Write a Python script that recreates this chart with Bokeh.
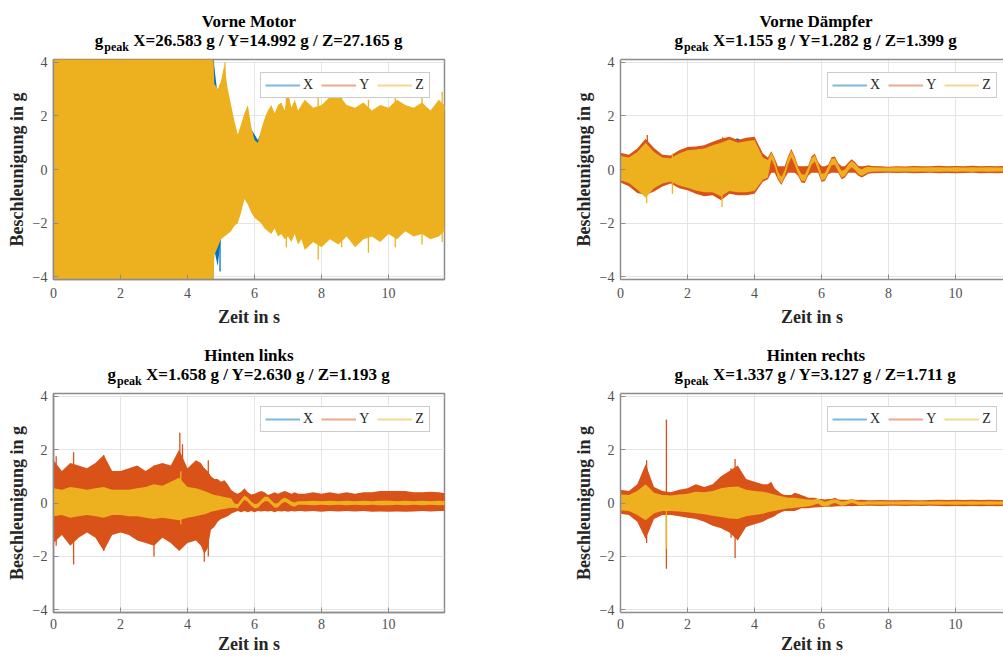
from bokeh.plotting import figure
from bokeh.models import Legend, LegendItem, FixedTicker, Range1d, LinearAxis
from bokeh.layouts import column, row
from bokeh.embed import file_html
from bokeh.resources import INLINE
from bokeh.core.properties import value

# ---------------- data ----------------
titles = ["Vorne Motor", "Vorne Dämpfer", "Hinten links", "Hinten rechts"]
peak_x = [26.583, 1.155, 1.658, 1.337]
peak_y = [14.992, 1.282, 2.630, 3.127]
peak_z = [27.165, 1.399, 1.193, 1.711]
x_ticks = [0, 2, 4, 6, 8, 10]
y_ticks = [-4, -2, 0, 2, 4]
channels = ["X", "Y", "Z"]

# time grid (s) of the envelope readings
t = [0, 0.25, 0.5, 0.75, 1, 1.25, 1.5, 1.75, 2, 2.25, 2.5, 2.75, 3, 3.25, 3.5, 3.75, 4, 4.25,
     4.4, 4.5, 4.6, 4.7, 4.8, 4.9, 5.0, 5.1, 5.2, 5.3,
     5.4, 5.5, 5.6, 5.7, 5.8, 5.9, 6.0, 6.1, 6.2, 6.3,
     6.4, 6.5, 6.6, 6.7, 6.8, 6.9, 7.0, 7.1, 7.2, 7.3, 7.4,
     7.5, 7.75, 8, 8.25, 8.5, 8.75, 9, 9.25, 9.5, 9.75,
     10, 10.25, 10.5, 10.75, 11, 11.25, 11.5, 11.75]

# --- Vorne Motor ---
motor_x_hi = [20, 24, 26.583, 22, 19, 23, 21, 25, 20, 22, 24, 19, 21, 23, 20, 19, 17, 15,
              13, 11, 9, 7, 3.8, 2.8, 3.0, 3.4, 2.7, 2.2,
              1.7, 1.2, 1.5, 1.9, 2.2, 1.5, 1.3, 1.1, 1.4, 1.8,
              2.0, 2.2, 1.9, 2.2, 2.3, 2.0, 2.5, 2.1, 2.4, 2.0, 2.2,
              2.4, 2.1, 2.2, 2.5, 2.6, 2.2, 2.1, 2.3, 2.0, 2.2,
              2.1, 2.4, 2.2, 2.1, 2.3, 2.0, 2.4, 2.1]
motor_x_lo = [-19, -23, -21, -26, -20, -22, -24, -21, -19, -23, -20, -22, -25, -19, -21, -20, -16, -15,
              -13, -11, -9, -7, -3.0, -3.6, -2.5, -2.4, -2.3, -2.2,
              -2.0, -1.9, -1.5, -1.0, -1.2, -1.5, -1.7, -1.8, -1.9, -2.1,
              -2.2, -2.3, -2.1, -2.3, -2.3, -2.4, -2.4, -2.5, -2.3, -2.6, -2.5,
              -2.8, -2.6, -2.7, -2.5, -2.6, -2.4, -2.7, -2.5, -2.4, -2.5,
              -2.3, -2.5, -2.2, -2.4, -2.3, -2.5, -2.4, -2.1]
motor_y_hi = [12, 14.992, 11, 13, 10, 12, 14, 11, 12, 13, 10, 12, 11, 13, 12, 10, 9, 8,
              7, 6, 5, 4.5, 2.9, 2.7, 2.9, 3.2, 2.6, 2.1,
              1.6, 1.2, 1.5, 1.9, 2.1, 1.4, 1.0, 0.9, 1.3, 1.7,
              2.0, 2.1, 1.9, 2.1, 2.2, 2.0, 2.4, 2.1, 2.3, 2.0, 2.1,
              2.3, 2.1, 2.2, 2.4, 2.5, 2.2, 2.1, 2.2, 2.0, 2.1,
              2.1, 2.3, 2.1, 2.0, 2.2, 2.0, 2.3, 2.1]
motor_y_lo = [-11, -13, -12, -14, -11, -12, -13, -14.5, -12, -11, -13, -12, -11, -14, -12, -11, -10, -9,
              -8, -7, -6, -5, -2.9, -2.6, -2.4, -2.3, -2.2, -2.1,
              -1.9, -1.8, -1.4, -1.0, -1.2, -1.4, -1.6, -1.7, -1.8, -2.0,
              -2.1, -2.2, -2.0, -2.2, -2.2, -2.3, -2.3, -2.4, -2.2, -2.5, -2.4,
              -2.7, -2.5, -2.6, -2.4, -2.5, -2.3, -2.6, -2.4, -2.3, -2.4,
              -2.2, -2.4, -2.1, -2.3, -2.2, -2.4, -2.3, -2.0]
motor_z_hi = [16, 21, 18, 23, 19, 22, 25, 20, 18, 24, 27.165, 21, 19, 23, 20, 18, 17, 15,
              13, 11, 9, 7, 3.2, 3.0, 3.3, 3.9, 3.0, 2.4,
              1.8, 1.3, 1.7, 2.1, 2.4, 1.6, 1.1, 1.0, 1.5, 1.9,
              2.2, 2.4, 2.1, 2.4, 2.5, 2.2, 2.9, 2.3, 2.6, 2.2, 2.4,
              2.6, 2.3, 2.4, 2.7, 2.8, 2.4, 2.3, 2.5, 2.2, 2.4,
              2.3, 2.6, 2.4, 2.3, 2.5, 2.2, 2.6, 2.3]
motor_z_lo = [-18, -22, -20, -25, -19, -21, -23, -26, -20, -22, -19, -24, -21, -18, -22, -20, -17, -16,
              -14, -12, -10, -7, -3.2, -2.9, -2.6, -2.5, -2.4, -2.3,
              -2.1, -2.0, -1.6, -1.1, -1.3, -1.6, -1.8, -1.9, -2.0, -2.2,
              -2.3, -2.4, -2.2, -2.5, -2.4, -2.6, -2.5, -2.7, -2.4, -2.8, -2.6,
              -3.0, -2.7, -2.9, -2.6, -2.8, -2.5, -2.9, -2.6, -2.5, -2.7,
              -2.4, -2.6, -2.3, -2.5, -2.4, -2.6, -2.5, -2.2]
motor_spk_ch = ["X", "X", "Z", "Z", "Z", "Z", "Z", "Z", "Z", "Z"]
motor_spk_t = [4.78, 4.97, 5.12, 6.95, 7.9, 8.6, 9.4, 10.2, 11.0, 11.6]
motor_spk_lo = [-2.0, -3.8, -2.4, -2.9, -3.35, -2.9, -3.1, -2.9, -2.8, -2.7]
motor_spk_hi = [3.8, 1.0, 4.0, 3.6, 2.7, 2.9, 2.6, 2.8, 2.7, 2.9]

# --- Vorne Dämpfer ---
daempfer_x_hi = [0.45, 0.4, 0.6, 0.9, 0.6, 0.4, 0.4, 0.55, 0.68, 0.7, 0.75, 0.85, 0.95, 1.05, 1.155, 1.0, 1.0, 0.4,
                 0.3, 0.55, 0.3, -0.1, -0.3, -0.05, 0.38, 0.66, 0.38, 0.05,
                 -0.2, -0.22, 0.05, 0.4, 0.52, 0.2, -0.18, -0.15, 0.1, 0.38,
                 0.4, 0.15, -0.08, -0.02, 0.18, 0.3, 0.2, 0.05, -0.02, 0.05, 0.08,
                 0.05, 0.05, 0.05, 0.05, 0.05, 0.05, 0.05, 0.05, 0.05, 0.05,
                 0.05, 0.05, 0.05, 0.05, 0.05, 0.05, 0.05, 0.05]
daempfer_x_lo = [-0.38, -0.45, -0.7, -0.9, -0.65, -0.5, -0.42, -0.55, -0.62, -0.72, -0.8, -0.8, -0.92, -0.75, -0.8, -0.82, -0.75, -0.35,
                 -0.25, 0.42, 0.17, -0.3, -0.5, -0.25, 0.2, 0.5, 0.2, -0.15,
                 -0.4, -0.42, -0.15, 0.2, 0.32, 0.0, -0.38, -0.35, -0.1, 0.18,
                 0.2, -0.05, -0.28, -0.22, -0.02, 0.1, 0.0, -0.15, -0.22, -0.15, -0.08,
                 -0.05, -0.05, -0.05, -0.05, -0.05, -0.05, -0.05, -0.05, -0.05, -0.05,
                 -0.05, -0.05, -0.05, -0.05, -0.05, -0.05, -0.05, -0.05]
daempfer_y_hi = [0.62, 0.55, 0.78, 1.15, 0.8, 0.55, 0.52, 0.72, 0.84, 0.86, 0.9, 1.03, 1.15, 1.22, 1.1, 1.18, 1.22, 0.6,
                 0.45, 0.68, 0.43, 0.12, 0.12, 0.12, 0.48, 0.76, 0.48, 0.13,
                 0.12, 0.12, 0.13, 0.48, 0.6, 0.28, 0.12, 0.12, 0.18, 0.46,
                 0.48, 0.23, 0.12, 0.12, 0.26, 0.38, 0.28, 0.13, 0.12, 0.13, 0.16,
                 0.13, 0.12, 0.1, 0.12, 0.11, 0.13, 0.12, 0.12, 0.14, 0.12,
                 0.13, 0.12, 0.14, 0.12, 0.13, 0.12, 0.13, 0.12]
daempfer_y_lo = [-0.48, -0.62, -0.88, -0.95, -0.82, -0.63, -0.52, -0.7, -0.77, -0.9, -1.0, -0.96, -1.15, -0.9, -0.96, -0.96, -0.9, -0.46,
                 -0.36, -0.12, -0.12, -0.38, -0.58, -0.33, -0.12, -0.12, -0.12, -0.23,
                 -0.48, -0.5, -0.23, -0.12, -0.12, -0.12, -0.46, -0.43, -0.18, -0.12,
                 -0.12, -0.13, -0.36, -0.3, -0.12, -0.12, -0.12, -0.23, -0.3, -0.23, -0.16,
                 -0.14, -0.13, -0.12, -0.13, -0.12, -0.14, -0.13, -0.12, -0.14, -0.13,
                 -0.14, -0.13, -0.12, -0.14, -0.13, -0.14, -0.12, -0.13]
daempfer_z_hi = [0.5, 0.45, 0.65, 1.0, 0.65, 0.45, 0.42, 0.6, 0.72, 0.75, 0.78, 0.9, 1.0, 1.12, 1.0, 1.05, 1.1, 0.45,
                 0.35, 0.62, 0.37, -0.08, -0.28, -0.03, 0.42, 0.7, 0.42, 0.07,
                 -0.18, -0.2, 0.07, 0.42, 0.54, 0.22, -0.16, -0.13, 0.12, 0.4,
                 0.42, 0.17, -0.06, 0.0, 0.2, 0.32, 0.22, 0.07, 0.0, 0.07, 0.1,
                 0.08, 0.07, 0.07, 0.08, 0.07, 0.08, 0.07, 0.08, 0.08, 0.07,
                 0.08, 0.07, 0.08, 0.07, 0.08, 0.07, 0.08, 0.07]
daempfer_z_lo = [-0.4, -0.5, -0.75, -1.05, -0.7, -0.52, -0.45, -0.6, -0.68, -0.78, -0.85, -0.85, -1.0, -0.8, -0.85, -0.85, -0.8, -0.38,
                 -0.3, 0.38, 0.13, -0.32, -0.52, -0.27, 0.18, 0.46, 0.18, -0.17,
                 -0.42, -0.44, -0.17, 0.18, 0.3, -0.02, -0.4, -0.37, -0.12, 0.16,
                 0.18, -0.07, -0.3, -0.24, -0.04, 0.08, -0.02, -0.17, -0.24, -0.17, -0.1,
                 -0.08, -0.07, -0.07, -0.08, -0.07, -0.08, -0.07, -0.08, -0.08, -0.07,
                 -0.08, -0.07, -0.08, -0.07, -0.08, -0.07, -0.08, -0.07]
daempfer_spk_ch = ["X", "Y", "Y", "Z", "Z", "Z"]
daempfer_spk_t = [3.48, 0.8, 3.05, 0.78, 3.03, 1.55]
daempfer_spk_lo = [-0.6, -0.9, -1.1, -1.25, -1.399, -0.9]
daempfer_spk_hi = [1.155, 1.282, 1.2, 0.9, 0.9, 0.6]

# --- Hinten links ---
links_x_hi = [0.4, 0.35, 0.45, 0.4, 0.35, 0.4, 0.45, 0.35, 0.35, 0.4, 0.4, 0.45, 0.5, 0.5, 0.6, 0.7, 0.45, 0.4,
              0.36, 0.33, 0.3, 0.26, 0.22, 0.2, 0.18, 0.16, 0.15, 0.13,
              -0.04, -0.06, 0.1, 0.24, 0.17, 0.03, -0.06, -0.04, 0.08, 0.2,
              0.2, 0.08, -0.04, -0.02, 0.1, 0.18, 0.11, 0.03, 0.0, 0.05, 0.05,
              0.05, 0.05, 0.05, 0.05, 0.05, 0.05, 0.05, 0.05, 0.05, 0.05,
              0.05, 0.05, 0.05, 0.05, 0.05, 0.05, 0.05, 0.05]
links_x_lo = [-0.38, -0.33, -0.42, -0.38, -0.33, -0.38, -0.42, -0.33, -0.33, -0.38, -0.38, -0.42, -0.45, -0.42, -0.45, -0.5, -0.42, -0.38,
              -0.33, -0.3, -0.28, -0.24, -0.22, -0.2, -0.18, -0.16, -0.15, -0.13,
              -0.16, -0.18, -0.01, 0.14, 0.07, -0.07, -0.18, -0.16, -0.03, 0.09,
              0.09, -0.04, -0.16, -0.14, -0.01, 0.07, 0.0, -0.08, -0.12, -0.05, -0.05,
              -0.05, -0.05, -0.05, -0.05, -0.05, -0.05, -0.05, -0.05, -0.05, -0.05,
              -0.05, -0.05, -0.05, -0.05, -0.05, -0.05, -0.05, -0.05]
links_y_hi = [1.6, 1.2, 1.5, 1.4, 1.3, 1.5, 1.8, 1.2, 1.2, 1.3, 1.4, 1.2, 1.4, 1.5, 1.4, 2.0, 1.3, 1.6,
              1.5, 1.3, 1.2, 1.0, 0.9, 0.9, 0.8, 0.85, 0.7, 0.5,
              0.4, 0.35, 0.42, 0.55, 0.4, 0.32, 0.35, 0.4, 0.45, 0.4,
              0.3, 0.35, 0.4, 0.35, 0.4, 0.45, 0.4, 0.35, 0.4, 0.35, 0.35,
              0.35, 0.4, 0.35, 0.4, 0.35, 0.4, 0.35, 0.4, 0.4, 0.45,
              0.45, 0.45, 0.45, 0.4, 0.4, 0.42, 0.4, 0.35]
links_y_lo = [-1.5, -1.2, -1.6, -1.3, -1.1, -1.3, -1.8, -1.2, -1.1, -1.2, -1.4, -1.5, -1.6, -1.3, -1.5, -1.8, -1.5, -1.4,
              -1.6, -1.9, -1.7, -1.0, -0.9, -0.7, -0.6, -0.55, -0.5, -0.4,
              -0.35, -0.3, -0.35, -0.3, -0.35, -0.3, -0.35, -0.3, -0.32, -0.3,
              -0.32, -0.3, -0.35, -0.3, -0.32, -0.3, -0.33, -0.3, -0.32, -0.3, -0.3,
              -0.32, -0.3, -0.33, -0.3, -0.32, -0.3, -0.32, -0.3, -0.33, -0.32,
              -0.33, -0.32, -0.33, -0.32, -0.3, -0.32, -0.3, -0.3]
links_z_hi = [0.55, 0.5, 0.6, 0.55, 0.5, 0.55, 0.6, 0.5, 0.5, 0.5, 0.55, 0.6, 0.7, 0.65, 0.8, 0.95, 0.6, 0.55,
              0.5, 0.45, 0.4, 0.35, 0.3, 0.28, 0.25, 0.22, 0.2, 0.18,
              -0.02, -0.04, 0.13, 0.28, 0.2, 0.06, -0.04, -0.02, 0.11, 0.23,
              0.23, 0.1, -0.02, 0.0, 0.13, 0.21, 0.14, 0.06, 0.02, 0.07, 0.07,
              0.07, 0.08, 0.07, 0.08, 0.07, 0.08, 0.07, 0.08, 0.07, 0.08,
              0.08, 0.07, 0.08, 0.07, 0.08, 0.07, 0.08, 0.07]
links_z_lo = [-0.5, -0.45, -0.55, -0.5, -0.45, -0.5, -0.55, -0.45, -0.45, -0.5, -0.5, -0.55, -0.6, -0.55, -0.6, -0.65, -0.55, -0.5,
              -0.45, -0.42, -0.38, -0.33, -0.3, -0.27, -0.24, -0.22, -0.2, -0.18,
              -0.18, -0.2, -0.03, 0.12, 0.04, -0.1, -0.2, -0.18, -0.05, 0.07,
              0.07, -0.06, -0.18, -0.16, -0.03, 0.05, -0.02, -0.1, -0.14, -0.07, -0.07,
              -0.07, -0.08, -0.07, -0.08, -0.07, -0.08, -0.07, -0.08, -0.07, -0.08,
              -0.08, -0.07, -0.08, -0.07, -0.08, -0.07, -0.08, -0.07]
links_spk_ch = ["X", "Y", "Y", "Y", "Y", "Y", "Y", "Y", "Y", "Z"]
links_spk_t = [3.77, 0.08, 0.6, 1.5, 3.0, 3.77, 3.85, 4.5, 4.62, 3.8]
links_spk_lo = [-1.2, -1.6, -2.3, -1.8, -2.0, -1.7, -1.5, -2.2, -2.0, -0.8]
links_spk_hi = [1.658, 1.75, 1.9, 1.8, 1.4, 2.63, 2.2, 1.3, 1.6, 1.193]

# --- Hinten rechts ---
rechts_x_hi = [0.26, 0.24, 0.36, 0.56, 0.3, 0.24, 0.22, 0.26, 0.28, 0.34, 0.32, 0.36, 0.44, 0.48, 0.5, 0.4, 0.36, 0.34,
               0.3, 0.28, 0.26, 0.22, 0.2, 0.18, 0.16, 0.16, 0.16, 0.14,
               0.13, 0.11, 0.1, 0.1, 0.11, 0.13, 0.08, 0.03, 0.06, 0.1,
               0.12, 0.08, 0.04, 0.05, 0.08, 0.11, 0.08, 0.04, 0.03, 0.04, 0.05,
               0.045, 0.045, 0.045, 0.045, 0.045, 0.045, 0.045, 0.045, 0.045, 0.045,
               0.045, 0.045, 0.045, 0.045, 0.045, 0.045, 0.045, 0.045]
rechts_x_lo = [-0.22, -0.24, -0.36, -0.52, -0.3, -0.24, -0.24, -0.26, -0.28, -0.3, -0.34, -0.38, -0.42, -0.46, -0.48, -0.4, -0.36, -0.32,
               -0.28, -0.26, -0.24, -0.22, -0.19, -0.18, -0.16, -0.16, -0.14, -0.14,
               -0.12, -0.11, -0.1, -0.08, -0.04, 0.0, -0.08, -0.12, -0.08, -0.02,
               0.02, -0.03, -0.08, -0.06, -0.02, 0.02, -0.01, -0.06, -0.07, -0.05, -0.04,
               -0.045, -0.045, -0.045, -0.045, -0.045, -0.045, -0.045, -0.045, -0.045, -0.045,
               -0.045, -0.045, -0.045, -0.045, -0.045, -0.045, -0.045, -0.045]
rechts_y_hi = [0.5, 0.45, 0.7, 1.45, 0.6, 0.45, 0.4, 0.5, 0.55, 0.7, 0.6, 0.7, 1.0, 1.2, 1.4, 0.9, 0.8, 0.7,
               0.7, 0.8, 0.55, 0.45, 0.35, 0.3, 0.3, 0.3, 0.38, 0.35,
               0.3, 0.25, 0.2, 0.2, 0.2, 0.15, 0.15, 0.13, 0.15, 0.15,
               0.2, 0.13, 0.12, 0.12, 0.12, 0.14, 0.12, 0.11, 0.12, 0.11, 0.1,
               0.1, 0.11, 0.1, 0.1, 0.11, 0.1, 0.1, 0.11, 0.12, 0.11,
               0.12, 0.11, 0.12, 0.11, 0.12, 0.11, 0.12, 0.11]
rechts_y_lo = [-0.4, -0.45, -0.7, -1.35, -0.6, -0.45, -0.45, -0.5, -0.55, -0.6, -0.7, -0.85, -0.95, -1.1, -1.4, -0.9, -0.8, -0.7,
               -0.6, -0.55, -0.5, -0.4, -0.35, -0.3, -0.3, -0.3, -0.3, -0.25,
               -0.2, -0.2, -0.2, -0.18, -0.17, -0.16, -0.15, -0.15, -0.14, -0.14,
               -0.13, -0.12, -0.12, -0.12, -0.11, -0.12, -0.11, -0.11, -0.11, -0.1, -0.1,
               -0.1, -0.11, -0.1, -0.1, -0.11, -0.1, -0.11, -0.1, -0.11, -0.12,
               -0.11, -0.12, -0.11, -0.12, -0.11, -0.12, -0.11, -0.1]
rechts_z_hi = [0.32, 0.3, 0.45, 0.7, 0.38, 0.3, 0.28, 0.32, 0.35, 0.42, 0.4, 0.45, 0.55, 0.6, 0.62, 0.5, 0.45, 0.42,
               0.38, 0.35, 0.32, 0.28, 0.25, 0.22, 0.2, 0.2, 0.2, 0.18,
               0.16, 0.14, 0.13, 0.12, 0.14, 0.16, 0.1, 0.05, 0.08, 0.12,
               0.14, 0.1, 0.06, 0.07, 0.1, 0.13, 0.1, 0.06, 0.05, 0.06, 0.07,
               0.06, 0.07, 0.06, 0.06, 0.07, 0.06, 0.07, 0.06, 0.07, 0.06,
               0.07, 0.06, 0.07, 0.06, 0.07, 0.06, 0.07, 0.06]
rechts_z_lo = [-0.28, -0.3, -0.45, -0.65, -0.38, -0.3, -0.3, -0.32, -0.35, -0.38, -0.42, -0.48, -0.52, -0.58, -0.6, -0.5, -0.45, -0.4,
               -0.35, -0.32, -0.3, -0.27, -0.24, -0.22, -0.2, -0.2, -0.18, -0.17,
               -0.15, -0.14, -0.12, -0.1, -0.06, -0.02, -0.1, -0.14, -0.1, -0.04,
               0.0, -0.05, -0.1, -0.08, -0.04, 0.0, -0.03, -0.08, -0.09, -0.07, -0.06,
               -0.06, -0.07, -0.06, -0.06, -0.07, -0.06, -0.07, -0.06, -0.07, -0.06,
               -0.07, -0.06, -0.07, -0.06, -0.07, -0.06, -0.07, -0.06]
rechts_spk_ch = ["X", "Y", "Y", "Y", "Y", "Z"]
rechts_spk_t = [0.78, 0.78, 1.37, 3.42, 3.3, 1.37]
rechts_spk_lo = [-0.6, -1.5, -2.46, -2.06, -1.3, -1.711]
rechts_spk_hi = [1.337, 1.6, 3.127, 1.65, 1.3, 0.3]

# ---------------- styling ----------------
FONT = "Liberation Serif"
COLORS = {"X": "#0072BD", "Y": "#D95319", "Z": "#EDB120"}
AXIS_COLOR = "#8c8c8c"
TICK_TEXT = "#505050"
T_END = 11.67            # time axis end of the full panel
FULL_FW = 391            # full frame width in px
LEFT_W, RIGHT_W = 530, 473
LEFT_LB, RIGHT_LB = 53, 90

# Times-Bold advance widths (em), Liberation Serif is metric compatible
TB = {' ': 0.25, '.': 0.25, '/': 0.278, '=': 0.57, 'X': 0.722, 'Y': 0.722, 'Z': 0.667,
      'g': 0.5, 'p': 0.556, 'e': 0.444, 'a': 0.5, 'k': 0.556}


def text_w(s, size):
    return sum(TB.get(c, 0.5) for c in s) * size


def geometry(left_col):
    width = LEFT_W if left_col else RIGHT_W
    lb = LEFT_LB if left_col else RIGHT_LB
    rb = width - lb - FULL_FW if left_col else 0
    return width, lb, rb, width - lb - rb


def style_axis(ax):
    ax.axis_line_color = AXIS_COLOR
    ax.axis_line_width = 1.5
    ax.major_tick_line_color = AXIS_COLOR
    ax.major_tick_in = 5
    ax.major_tick_out = 0
    ax.minor_tick_line_color = None
    ax.major_label_text_font = FONT
    ax.major_label_text_font_size = "14px"
    ax.major_label_text_color = TICK_TEXT
    ax.axis_label_text_font = FONT
    ax.axis_label_text_font_size = "18px"
    ax.axis_label_text_font_style = "bold"
    ax.axis_label_text_color = "#262626"


def title_strip(i, left_col, strip_h):
    width, lb, rb, fw = geometry(left_col)
    s = figure(width=width, height=strip_h, x_range=Range1d(0, fw), y_range=Range1d(0, strip_h),
               output_backend="svg", toolbar_location=None, x_axis_type=None, y_axis_type=None,
               min_border_left=lb, min_border_right=rb, min_border_top=0, min_border_bottom=0)
    s.title.visible = False
    s.outline_line_color = None
    s.xgrid.visible = False
    s.ygrid.visible = False
    cx = FULL_FW / 2.0
    main = "X=%.3f g / Y=%.3f g / Z=%.3f g" % (peak_x[i], peak_y[i], peak_z[i])
    wg, wp, wm = text_w("g", 17), text_w("peak", 12), text_w(main, 17)
    gap1, gap2 = 1.0, 4.25
    x0 = cx - (wg + gap1 + wp + gap2 + wm) / 2.0
    common = dict(text_baseline="alphabetic", text_font=value(FONT), text_font_style="bold",
                  text_color="black")
    s.text(x=[cx], y=[35], text=[titles[i]], text_align="center", text_font_size="17px", **common)
    s.text(x=[x0], y=[16], text=["g"], text_align="left", text_font_size="17px", **common)
    s.text(x=[x0 + wg + gap1], y=[10], text=["peak"], text_align="left", text_font_size="12px", **common)
    s.text(x=[x0 + wg + gap1 + wp + gap2], y=[16], text=[main], text_align="left",
           text_font_size="17px", **common)
    return s


def panel(i, arrs, spikes, left_col, height, bottom_b, lab_standoff, ax_standoff):
    width, lb, rb, fw = geometry(left_col)
    top_b = 3
    fh = height - top_b - bottom_b
    xmax = T_END * fw / float(FULL_FW)
    p = figure(width=width, height=height, x_range=Range1d(0, xmax), y_range=Range1d(-4.1, 4.1),
               output_backend="svg", toolbar_location=None,
               min_border_left=lb, min_border_right=rb, min_border_top=top_b, min_border_bottom=bottom_b)
    p.title.visible = False
    p.xgrid.grid_line_color = "#e4e4e4"
    p.ygrid.grid_line_color = "#e4e4e4"
    p.xaxis.ticker = FixedTicker(ticks=x_ticks)
    p.yaxis.ticker = FixedTicker(ticks=y_ticks)
    p.xaxis.axis_label = "Zeit in s"
    p.yaxis.axis_label = "Beschleunigung in g"
    for ax in p.xaxis + p.yaxis:
        style_axis(ax)
    p.xaxis.major_label_standoff = lab_standoff
    p.xaxis.axis_label_standoff = ax_standoff
    p.yaxis.major_label_standoff = 6
    p.yaxis.axis_label_standoff = 3
    if left_col:
        p.outline_line_color = AXIS_COLOR
        p.outline_line_width = 1.5
    else:
        # the right edge of this panel lies outside the picture: only a top border line
        p.outline_line_color = None
        top = LinearAxis(ticker=FixedTicker(ticks=[]))
        top.axis_line_color = AXIS_COLOR
        top.axis_line_width = 1.5
        top.major_tick_line_color = None
        top.minor_tick_line_color = None
        p.add_layout(top, "above")

    s_ch, s_t, s_lo, s_hi = spikes
    for ch in channels:
        hi, lo = arrs[ch]
        p.varea(x=t, y1=lo, y2=hi, fill_color=COLORS[ch], fill_alpha=1.0)
        idx = [k for k, c in enumerate(s_ch) if c == ch]
        if idx:
            p.segment(x0=[s_t[k] for k in idx], y0=[s_lo[k] for k in idx],
                      x1=[s_t[k] for k in idx], y1=[s_hi[k] for k in idx],
                      line_color=COLORS[ch], line_width=1.3)

    # legend with line samples (renderers hold no visible data)
    items = []
    for ch in channels:
        r = p.line(x=[float("nan")], y=[float("nan")], line_color=COLORS[ch], line_width=2, line_alpha=0.5)
        items.append(LegendItem(label=ch, renderers=[r]))
    leg = Legend(items=items, orientation="horizontal", location=(207, fh - 39),
                 label_text_font=FONT, label_text_font_size="14px", label_text_color="#262626",
                 glyph_width=35, glyph_height=12, label_standoff=3, spacing=8, padding=4,
                 label_height=12, label_width=10, margin=0,
                 border_line_color="#9a9a9a", border_line_width=1.5, background_fill_alpha=1.0)
    p.add_layout(leg)
    return p


for name, arr in [("motor_x_hi", motor_x_hi), ("motor_x_lo", motor_x_lo), ("motor_y_hi", motor_y_hi),
                  ("motor_y_lo", motor_y_lo), ("motor_z_hi", motor_z_hi), ("motor_z_lo", motor_z_lo),
                  ("daempfer_x_hi", daempfer_x_hi), ("daempfer_x_lo", daempfer_x_lo),
                  ("daempfer_y_hi", daempfer_y_hi), ("daempfer_y_lo", daempfer_y_lo),
                  ("daempfer_z_hi", daempfer_z_hi), ("daempfer_z_lo", daempfer_z_lo),
                  ("links_x_hi", links_x_hi), ("links_x_lo", links_x_lo), ("links_y_hi", links_y_hi),
                  ("links_y_lo", links_y_lo), ("links_z_hi", links_z_hi), ("links_z_lo", links_z_lo),
                  ("rechts_x_hi", rechts_x_hi), ("rechts_x_lo", rechts_x_lo), ("rechts_y_hi", rechts_y_hi),
                  ("rechts_y_lo", rechts_y_lo), ("rechts_z_hi", rechts_z_hi), ("rechts_z_lo", rechts_z_lo)]:
    if len(arr) != len(t):
        raise ValueError("%s has %d values, expected %d" % (name, len(arr), len(t)))

TOP_STRIP, BOT_STRIP = 56, 60
p1 = panel(0, {"X": (motor_x_hi, motor_x_lo), "Y": (motor_y_hi, motor_y_lo), "Z": (motor_z_hi, motor_z_lo)},
           (motor_spk_ch, motor_spk_t, motor_spk_lo, motor_spk_hi), True, 274, 51, 8, 6)
p2 = panel(1, {"X": (daempfer_x_hi, daempfer_x_lo), "Y": (daempfer_y_hi, daempfer_y_lo),
               "Z": (daempfer_z_hi, daempfer_z_lo)},
           (daempfer_spk_ch, daempfer_spk_t, daempfer_spk_lo, daempfer_spk_hi), False, 274, 51, 8, 6)
p3 = panel(2, {"X": (links_x_hi, links_x_lo), "Y": (links_y_hi, links_y_lo), "Z": (links_z_hi, links_z_lo)},
           (links_spk_ch, links_spk_t, links_spk_lo, links_spk_hi), True, 267, 45, 6, 2)
p4 = panel(3, {"X": (rechts_x_hi, rechts_x_lo), "Y": (rechts_y_hi, rechts_y_lo),
               "Z": (rechts_z_hi, rechts_z_lo)},
           (rechts_spk_ch, rechts_spk_t, rechts_spk_lo, rechts_spk_hi), False, 267, 45, 6, 2)

layout = column(
    row(column(title_strip(0, True, TOP_STRIP), p1, spacing=0),
        column(title_strip(1, False, TOP_STRIP), p2, spacing=0), spacing=0),
    row(column(title_strip(2, True, BOT_STRIP), p3, spacing=0),
        column(title_strip(3, False, BOT_STRIP), p4, spacing=0), spacing=0),
    spacing=0)
open("out.html", "w").write(file_html(layout, INLINE))
